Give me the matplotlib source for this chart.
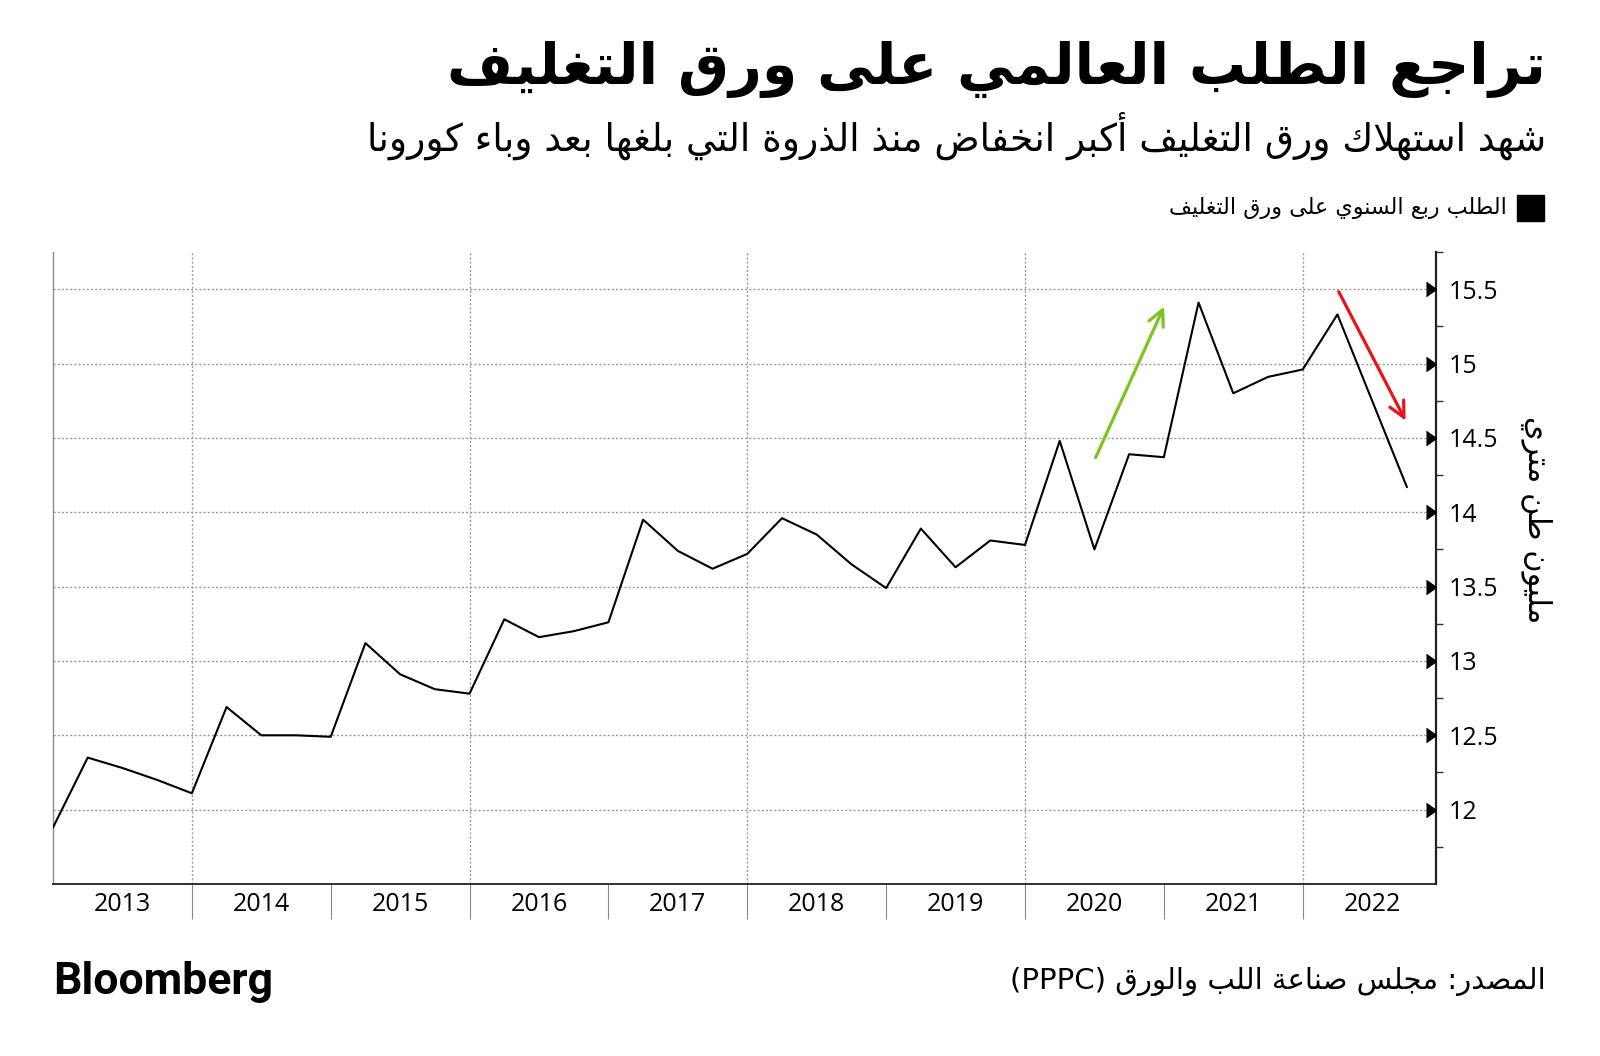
import matplotlib
matplotlib.use("Agg")
import matplotlib.pyplot as plt
from matplotlib.patches import Rectangle
from matplotlib.ticker import FixedLocator, FuncFormatter
import matplotlib.transforms as mtransforms

# quarterly demand, million tonnes (2013 Q1 .. 2022 Q4)
demand = [11.88, 12.35, 12.28, 12.20,
          12.11, 12.69, 12.50, 12.50,
          12.49, 13.12, 12.91, 12.81,
          12.78, 13.28, 13.16, 13.20,
          13.26, 13.95, 13.74, 13.62,
          13.72, 13.96, 13.85, 13.65,
          13.49, 13.89, 13.63, 13.81,
          13.78, 14.48, 13.75, 14.39,
          14.37, 15.41, 14.80, 14.91,
          14.96, 15.33, 14.75, 14.17]
quarters = [2013 + i / 4 for i in range(len(demand))]
years = list(range(2013, 2023))
grid_years = [2014, 2016, 2018, 2020, 2022]
y_ticks = [12, 12.5, 13, 13.5, 14, 14.5, 15, 15.5]
y_minor = [11.75, 12.25, 12.75, 13.25, 13.75, 14.25, 14.75, 15.25, 15.75]

# annotation arrows (start, end)
arrow_up = ((2020.5, 14.35), (2021.01, 15.40))
arrow_down = ((2022.25, 15.50), (2022.75, 14.60))

title = "تراجع الطلب العالمي على ورق التغليف"
subtitle = "شهد استهلاك ورق التغليف أكبر انخفاض منذ الذروة التي بلغها بعد وباء كورونا"
legend_txt = "الطلب ربع السنوي على ورق التغليف"
ylabel = "مليون طن متري"
source_ar = "المصدر: مجلس صناعة اللب والورق"
source_lat = "(PPPC)"

# --- minimal arabic shaping (matplotlib has no RTL / joining support) ---
_codes = list(range(0x621, 0x63B)) + list(range(0x641, 0x64B))
_counts = [1, 2, 2, 2, 2, 4, 2, 4, 2, 4, 4, 4, 4, 4, 2, 2, 2, 2,
           4, 4, 4, 4, 4, 4, 4, 4, 4, 4, 4, 4, 4, 4, 4, 2, 2, 4]
FORMS = {}
_p = 0xFE80
for c, k in zip(_codes, _counts):
    FORMS[chr(c)] = [_p + j for j in range(k)]
    _p += k
LAMALEF = {"آ": (0xFEF5, 0xFEF6), "أ": (0xFEF7, 0xFEF8),
           "إ": (0xFEF9, 0xFEFA), "ا": (0xFEFB, 0xFEFC)}


def ar(s):
    out = []
    i = 0
    n = len(s)
    while i < n:
        c = s[i]
        if c not in FORMS:
            out.append(c)
            i += 1
            continue
        prev = s[i - 1] if i > 0 else ""
        jp = prev in FORMS and len(FORMS[prev]) == 4
        if c == "ل" and i + 1 < n and s[i + 1] in LAMALEF:
            iso, fin = LAMALEF[s[i + 1]]
            out.append(chr(fin if jp else iso))
            i += 2
            continue
        nxt = s[i + 1] if i + 1 < n else ""
        f = FORMS[c]
        jn = len(f) == 4 and nxt in FORMS
        if jp and jn:
            g = f[3]
        elif jp and len(f) > 1:
            g = f[1]
        elif jn:
            g = f[2]
        else:
            g = f[0]
        out.append(chr(g))
        i += 1
    return "".join(out)[::-1]


W, H = 1600, 1056
def fx(x): return x / W
def fy(y): return 1 - y / H

AR = ["DejaVu Sans"]
NUM = ["Open Sans", "DejaVu Sans"]

fig = plt.figure(figsize=(16, 10.56), dpi=100)
ax = fig.add_axes([fx(53), fy(884), fx(1436) - fx(53), fy(252) - fy(884)])

ax.plot(quarters, demand, color="black", lw=1.5, zorder=3)

ax.annotate("", xy=arrow_up[1], xytext=arrow_up[0],
            arrowprops=dict(arrowstyle="->", color="#7cc520", lw=2.3, mutation_scale=28))
ax.annotate("", xy=arrow_down[1], xytext=arrow_down[0],
            arrowprops=dict(arrowstyle="->", color="#e8141c", lw=2.3, mutation_scale=28))

ax.set_xlim(2013, 2022.96)
ax.set_ylim(11.5, 15.75)

# grids
ax.yaxis.set_major_locator(FixedLocator(y_ticks))
ax.yaxis.set_minor_locator(FixedLocator(y_minor))
ax.yaxis.grid(True, which="major", ls=(0, (1.5, 1.5)), color="#9a9a9a", lw=1)
for g in grid_years:
    ax.axvline(g, ls=(0, (1.5, 1.5)), color="#9a9a9a", lw=1, zorder=1)
ax.set_axisbelow(True)

# y axis on the right
ax.yaxis.tick_right()
ax.yaxis.set_major_formatter(FuncFormatter(lambda v, p: "%g" % v))
ax.tick_params(axis="y", which="major", length=0, pad=9, labelsize=18)
ax.tick_params(axis="y", which="minor", length=5, width=1, color="#333333",
               direction="out", right=True, left=False)
for lab in ax.get_yticklabels():
    lab.set_fontfamily(NUM)
trans = mtransforms.blended_transform_factory(ax.transAxes, ax.transData)
ax.plot([1] * len(y_ticks), y_ticks, ls="none", marker=5, ms=10, color="black",
        transform=trans, clip_on=False, zorder=5)

# x axis: year separators and centred labels
ax.xaxis.set_major_locator(FixedLocator(years[1:]))
ax.xaxis.set_major_formatter(FuncFormatter(lambda v, p: ""))
ax.xaxis.set_minor_locator(FixedLocator([y + 0.5 for y in years]))
ax.xaxis.set_minor_formatter(FuncFormatter(lambda v, p: "%d" % int(v)))
ax.tick_params(axis="x", which="major", length=25, width=0.8, color="#888888")
ax.tick_params(axis="x", which="minor", length=0, pad=6, labelsize=18)
for lab in ax.get_xticklabels(minor=True):
    lab.set_fontfamily(NUM)

ax.spines["top"].set_visible(False)
ax.spines["left"].set_color("#8a8a8a")
ax.spines["left"].set_linewidth(1)
ax.spines["right"].set_color("#222222")
ax.spines["right"].set_linewidth(1.6)
ax.spines["bottom"].set_color("#222222")
ax.spines["bottom"].set_linewidth(1.3)

# texts
fig.text(fx(1546), fy(69), ar(title), ha="right", va="center", fontsize=41,
         fontweight="bold", family=AR)
fig.text(fx(1546), fy(136), ar(subtitle), ha="right", va="center", fontsize=27,
         family=AR)
fig.patches.append(Rectangle((fx(1517), fy(221)), fx(27), 26 / H, transform=fig.transFigure,
                             color="black"))
fig.text(fx(1507), fy(208), ar(legend_txt), ha="right", va="center", fontsize=16,
         family=AR)
fig.text(fx(1536), fy(520), ar(ylabel), ha="center", va="center", fontsize=22,
         rotation=270, family=AR)
fig.text(fx(53), fy(982), "Bloomberg", ha="left", va="center", fontsize=32,
         fontweight="bold", family=["Roboto", "DejaVu Sans"])
fig.text(fx(1546), fy(982), source_lat + " " + ar(source_ar), ha="right", va="center",
         fontsize=21, family=AR)

fig.savefig("out.png", dpi=100, facecolor="white")
